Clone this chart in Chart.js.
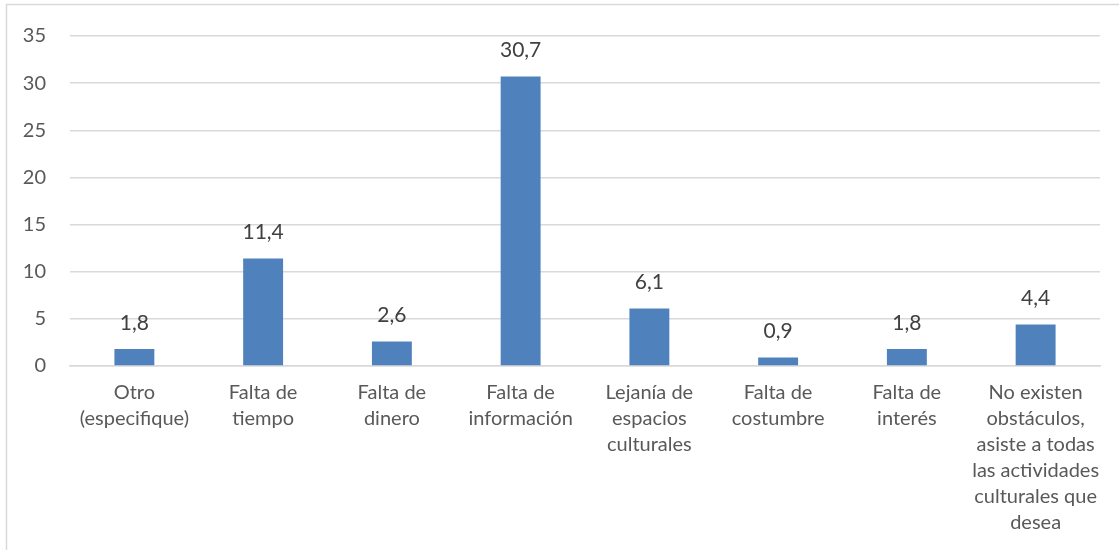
<!DOCTYPE html>
<html>
<head>
<meta charset="utf-8">
<script src="https://cdn.jsdelivr.net/npm/chart.js@4.4.0/dist/chart.umd.min.js"></script>
<style>
  html, body { margin: 0; padding: 0; background: #fff; }
  #wrap { position: relative; width: 1119px; height: 550px; }
</style>
</head>
<body>
<div id="wrap"><canvas id="main-chart"></canvas></div>
<script>
// category labels, already broken into lines like the original
const categories = [
  ["Otro", "(especifique)"],
  ["Falta de", "tiempo"],
  ["Falta de", "dinero"],
  ["Falta de", "información"],
  ["Lejanía de", "espacios", "culturales"],
  ["Falta de", "costumbre"],
  ["Falta de", "interés"],
  ["No existen", "obstáculos,", "asiste a todas", "las actividades", "culturales que", "desea"]
];
const values = [1.8, 11.4, 2.6, 30.7, 6.1, 0.9, 1.8, 4.4];
const yTicks = [0, 5, 10, 15, 20, 25, 30, 35];

const FONT = "Lato, 'Open Sans', sans-serif";

// draws value labels above each bar, with comma decimals
const barLabels = {
  id: "barLabels",
  afterDatasetsDraw(chart) {
    const ctx = chart.ctx;
    const meta = chart.getDatasetMeta(0);
    ctx.save();
    ctx.font = "21px " + FONT;
    ctx.fillStyle = "#404040";
    ctx.textAlign = "center";
    ctx.textBaseline = "middle";
    meta.data.forEach((bar, i) => {
      ctx.fillText(values[i].toFixed(1).replace(".", ","), bar.x, bar.y - 26);
    });
    ctx.restore();
  }
};

// chart-area frame (light grey border of the Excel chart object)
const frame = {
  id: "frame",
  beforeDraw(chart) {
    const ctx = chart.ctx;
    ctx.save();
    ctx.strokeStyle = "#D9D9D9";
    ctx.lineWidth = 1.5;
    ctx.beginPath();
    ctx.moveTo(6.5, chart.height);
    ctx.lineTo(6.5, 4.5);
    ctx.lineTo(chart.width, 4.5);
    ctx.stroke();
    ctx.restore();
  }
};

const chart = new Chart(document.getElementById("main-chart"), {
  type: "bar",
  data: {
    labels: categories,
    datasets: [{
      data: values,
      backgroundColor: "#4F81BD",
      borderWidth: 0,
      barPercentage: 0.31,
      categoryPercentage: 1
    }]
  },
  options: {
    responsive: true,
    maintainAspectRatio: false,
    animation: false,
    layout: { padding: { top: 24, right: 19, left: 0, bottom: 0 } },
    plugins: { legend: { display: false }, tooltip: { enabled: false } },
    scales: {
      x: {
        grid: { display: false, drawTicks: false },
        border: { color: "#D9D9D9", width: 1.5 },
        ticks: {
          color: "#595959",
          font: { family: FONT, size: 20, lineHeight: 1.3 },
          padding: 14,
          maxRotation: 0,
          autoSkip: false
        },
        afterFit(scale) { scale.height = 184; }
      },
      y: {
        min: 0,
        max: 35,
        afterBuildTicks(scale) { scale.ticks = yTicks.map(v => ({ value: v })); },
        grid: { color: "#D9D9D9", lineWidth: 1.5, drawTicks: false },
        border: { display: false },
        ticks: {
          color: "#595959",
          font: { family: FONT, size: 20 },
          padding: 24
        },
        afterFit(scale) { scale.width = 70; }
      }
    }
  },
  plugins: [frame, barLabels]
});
</script>
</body>
</html>
